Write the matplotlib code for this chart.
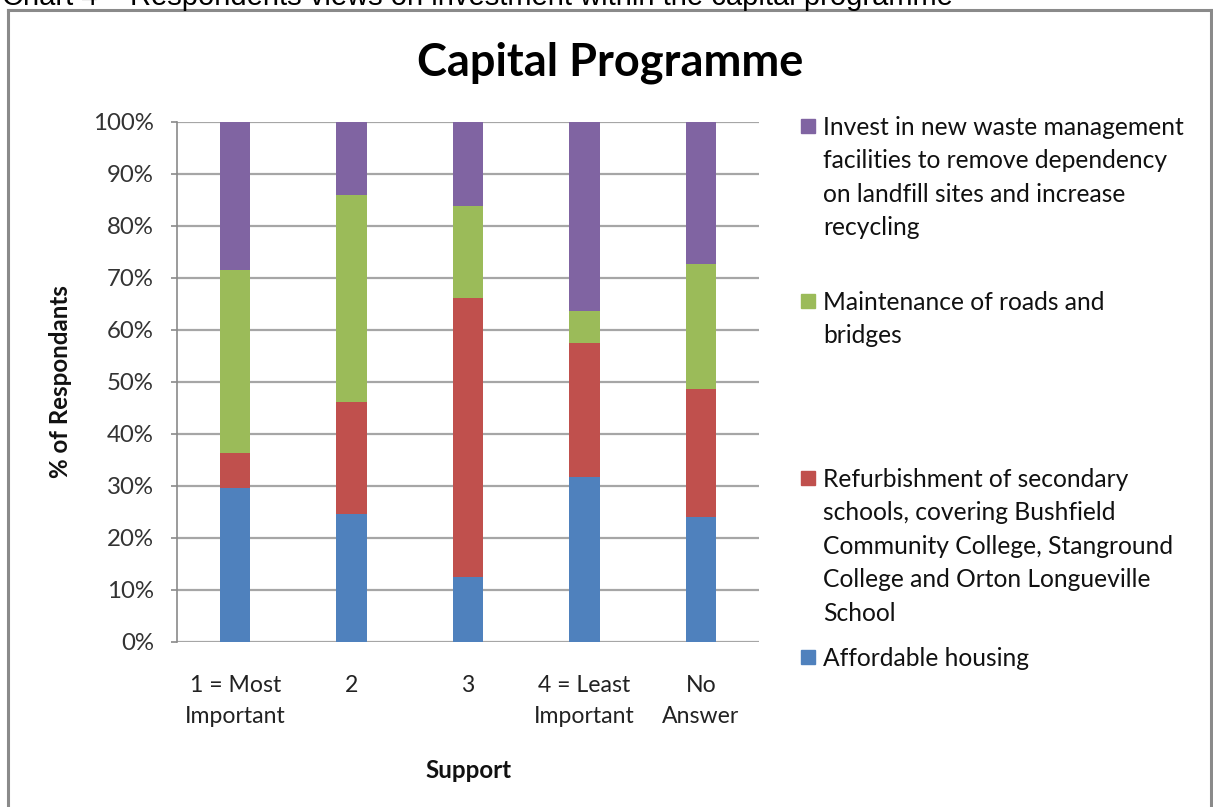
import matplotlib
matplotlib.use("Agg")
import matplotlib.pyplot as plt
from matplotlib.patches import Rectangle
from matplotlib.lines import Line2D
import numpy as np

categories = ["1 = Most\nImportant", "2", "3", "4 = Least\nImportant", "No\nAnswer"]
affordable = [29.6, 24.6, 12.5, 31.7, 24.1]
refurbishment = [6.7, 21.6, 53.7, 25.8, 24.6]
maintenance = [35.2, 39.8, 17.6, 6.2, 24.0]
waste = [28.5, 14.0, 16.2, 36.3, 27.3]

series_names = [
    "Affordable housing",
    "Refurbishment of secondary\nschools, covering Bushfield\nCommunity College, Stanground\nCollege and Orton Longueville\nSchool",
    "Maintenance of roads and\nbridges",
    "Invest in new waste management\nfacilities to remove dependency\non landfill sites and increase\nrecycling",
]
colors = ["#4F81BD", "#C0504D", "#9BBB59", "#8064A2"]

W, H = 1213, 807
fig = plt.figure(figsize=(W / 100, H / 100), dpi=100)
FONT = "Lato"

def fx(px):
    return px / W

def fy(py):
    return 1 - py / H

# outer frame
for (x0, y0, x1, y1) in [(8, 10, 1211, 10), (8, 10, 8, 807), (1211, 10, 1211, 807)]:
    fig.add_artist(Line2D([fx(x0), fx(x1)], [fy(y0), fy(y1)], color="#8a8a8a", lw=2.2,
                          transform=fig.transFigure))

# caption (clipped at top, as in the source document)
fig.text(fx(2), fy(5), "Chart 4 \u2013 Respondents views on investment within the capital programme",
         family="Liberation Sans", fontsize=21, ha="left", va="baseline", color="#000000")

ax = fig.add_axes([fx(177), fy(642), fx(759) - fx(177), (642 - 122) / H])
x = np.arange(len(categories))
bottom = np.zeros(len(categories))
data = [affordable, refurbishment, maintenance, waste]
for vals, c in zip(data, colors):
    ax.bar(x, vals, bottom=bottom, width=0.26, color=c, edgecolor="none", zorder=3)
    bottom += np.array(vals)

ax.set_xlim(-0.5, len(categories) - 0.5)
ax.set_ylim(0, 100)
ax.set_yticks(np.arange(0, 101, 10))
ax.set_yticklabels([f"{v}%" for v in range(0, 101, 10)], family=FONT, fontsize=17.3, color="#333333")
ax.set_xticks(x)
ax.set_xticklabels(categories, family=FONT, fontsize=16.6, color="#222222", linespacing=1.62)
ax.tick_params(axis="x", length=0, pad=23.5)
ax.tick_params(axis="y", length=4.3, width=1.2, color="#8a8a8a", pad=12.3, direction="out")
ax.grid(axis="y", color="#a6a6a6", lw=1.6, zorder=0)
for s in ["top", "right", "bottom"]:
    ax.spines[s].set_visible(False)
ax.spines["left"].set_color("#8a8a8a")
ax.spines["left"].set_linewidth(1.2)

fig.text(fx(61), fy(382), "% of Respondants", rotation=90, family=FONT, fontsize=17.4,
         fontweight="bold", ha="center", va="center", color="#111111")
fig.text(fx(468), fy(770), "Support", family=FONT, fontsize=17.4, fontweight="bold",
         ha="center", va="center", color="#111111")
fig.text(fx(610), fy(63), "Capital Programme", family=FONT, fontsize=32.5, fontweight="bold",
         ha="center", va="center", color="#000000")

# legend (manual, Excel-style spacing)
legend_y = [657, 478, 301, 126]
for name, c, ly in zip(series_names, colors, legend_y):
    fig.add_artist(Rectangle((fx(801), fy(ly + 7)), fx(14), 14 / H, color=c,
                             transform=fig.transFigure))
    fig.text(fx(823), fy(ly - 10), name, family=FONT, fontsize=17.7, ha="left", va="top",
             linespacing=1.55, color="#111111")

fig.savefig("out.png", dpi=100)
